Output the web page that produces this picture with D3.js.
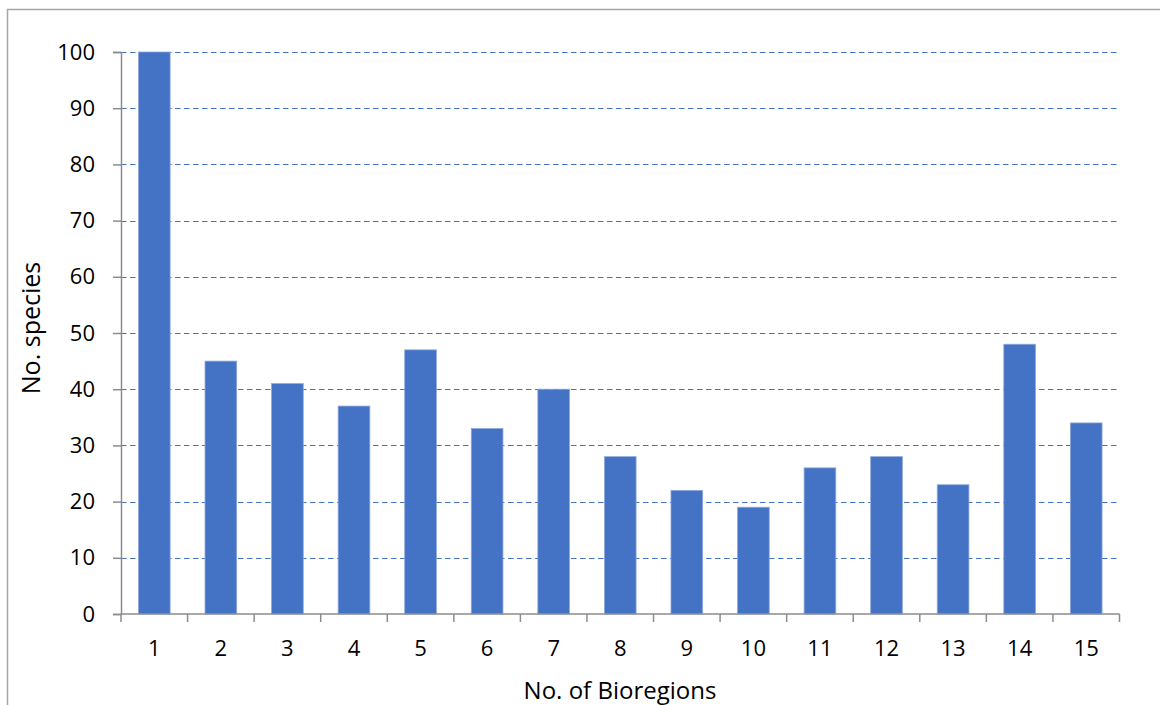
<!DOCTYPE html>
<html>
<head>
<meta charset="utf-8">
<script src="https://cdn.jsdelivr.net/npm/d3@7"></script>
<style>
  html, body { margin: 0; padding: 0; background: #fff; }
  svg { display: block; font-family: "Open Sans", sans-serif; }
</style>
</head>
<body>
<svg id="chart" width="1160" height="705"></svg>
<script>
// Number of species found in 1..15 bioregions
const categories = ["1","2","3","4","5","6","7","8","9","10","11","12","13","14","15"];
const speciesCounts = [100, 45, 41, 37, 47, 33, 40, 28, 22, 19, 26, 28, 23, 48, 34];
const yTicks = [0, 10, 20, 30, 40, 50, 60, 70, 80, 90, 100];

const svg = d3.select("#chart");
const W = 1160, H = 705;
const plot = { left: 121, right: 1119.5, top: 52, bottom: 614 };
const barColor = "#4472C4";
const axisColor = "#8c8c8c";

// chart frame
svg.append("path")
  .attr("d", `M7.5,${H} V9.5 H${W}`)
  .attr("fill", "none")
  .attr("stroke", "#a6a6a6")
  .attr("stroke-width", 1.5);

const x = d3.scaleBand()
  .domain(categories)
  .range([plot.left, plot.right])
  .paddingInner(0.5238)
  .paddingOuter(0.2619);

const xBounds = d3.scaleLinear()
  .domain([0, categories.length])
  .range([plot.left, plot.right]);

const y = d3.scaleLinear()
  .domain([0, 100])
  .range([plot.bottom, plot.top]);

// dashed gridlines
svg.append("g")
  .selectAll("line")
  .data(yTicks.filter(d => d > 0))
  .join("line")
  .attr("x1", plot.left)
  .attr("x2", plot.right)
  .attr("y1", d => Math.round(y(d)) + 0.5)
  .attr("y2", d => Math.round(y(d)) + 0.5)
  .attr("stroke", barColor)
  .attr("stroke-width", 1.2)
  .attr("stroke-dasharray", "5.5,3.5");

// bars
svg.append("g")
  .selectAll("rect")
  .data(speciesCounts)
  .join("rect")
  .attr("x", (d, i) => x(categories[i]))
  .attr("y", d => y(d))
  .attr("width", x.bandwidth())
  .attr("height", d => y(0) - y(d))
  .attr("fill", barColor)
  .attr("stroke", "#8faadc")
  .attr("stroke-width", 0.8);

// y axis
const yAxis = d3.axisLeft(y)
  .tickValues(yTicks)
  .tickSize(8)
  .tickPadding(18)
  .tickFormat(d3.format("d"));

const gy = svg.append("g")
  .attr("transform", `translate(${plot.left},0)`)
  .call(yAxis);
gy.select(".domain").attr("stroke", axisColor).attr("stroke-width", 1.5);
gy.selectAll(".tick line").attr("stroke", axisColor).attr("stroke-width", 1.5);
gy.selectAll(".tick text")
  .attr("fill", "#000")
  .attr("font-size", 22)
  .attr("font-family", "'Open Sans', sans-serif");

// x axis: tick marks on category boundaries, labels centred on bars
const gx = svg.append("g")
  .attr("transform", `translate(0,${plot.bottom})`);
gx.append("line")
  .attr("x1", plot.left)
  .attr("x2", plot.right)
  .attr("stroke", axisColor)
  .attr("stroke-width", 1.5);
gx.selectAll("line.bound")
  .data(d3.range(categories.length + 1))
  .join("line")
  .attr("class", "bound")
  .attr("x1", d => xBounds(d))
  .attr("x2", d => xBounds(d))
  .attr("y1", 0)
  .attr("y2", 8)
  .attr("stroke", axisColor)
  .attr("stroke-width", 1.5);
gx.selectAll("text")
  .data(categories)
  .join("text")
  .attr("x", d => x(d) + x.bandwidth() / 2)
  .attr("y", 42)
  .attr("text-anchor", "middle")
  .attr("font-size", 22)
  .attr("fill", "#000")
  .text(d => d);

// axis titles
svg.append("text")
  .attr("x", 620)
  .attr("y", 699)
  .attr("text-anchor", "middle")
  .attr("font-size", 24)
  .attr("fill", "#000")
  .text("No. of Bioregions");

svg.append("text")
  .attr("transform", "translate(40,328) rotate(-90)")
  .attr("text-anchor", "middle")
  .attr("font-size", 25)
  .attr("fill", "#000")
  .text("No. species");
</script>
</body>
</html>
